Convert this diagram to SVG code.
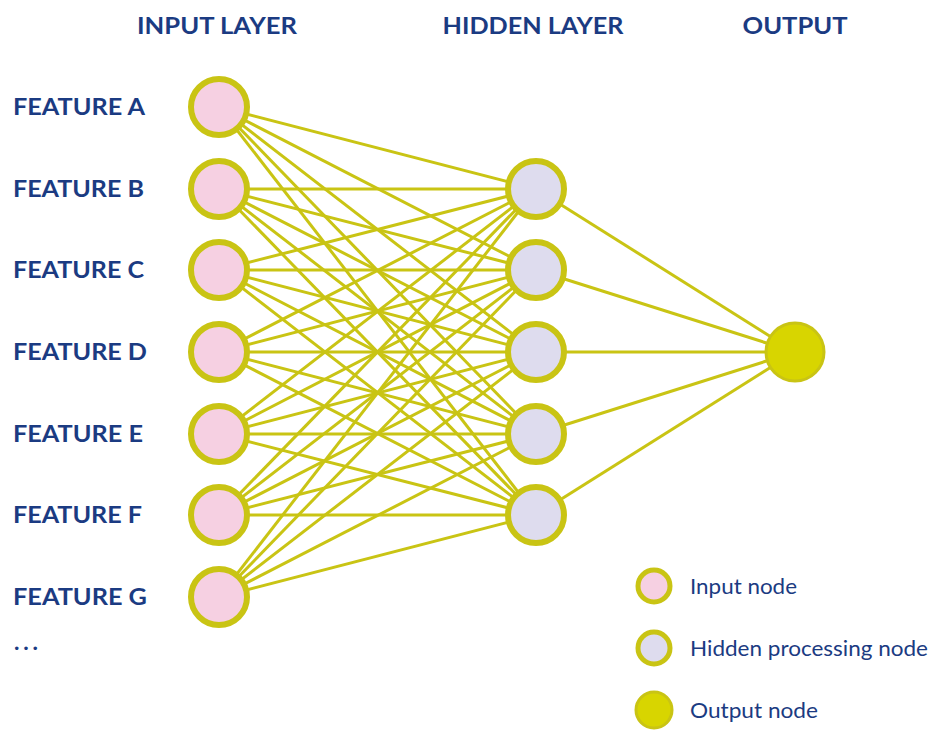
<svg xmlns="http://www.w3.org/2000/svg" width="932" height="740" viewBox="0 0 932 740">
<defs>
<style>
.hdr{font-family:Lato,"Open Sans","Liberation Sans",sans-serif;font-weight:700;font-size:23px;fill:#1b3b82;}
.lbl{font-family:Lato,"Open Sans","Liberation Sans",sans-serif;font-weight:700;font-size:23px;fill:#1b3b82;}
.leg{font-family:Lato,"Open Sans","Liberation Sans",sans-serif;font-weight:400;font-size:21px;fill:#1b3b82;}
.in{fill:#f6d0e2;stroke:#c9c414;stroke-width:6;}
.hid{fill:#dedcee;stroke:#c9c414;stroke-width:6;}
.out{fill:#d8d500;stroke:#c9c414;stroke-width:3;}
.ln{stroke:#c9c414;stroke-width:3;fill:none;}
</style>
</defs>
<rect width="932" height="740" fill="#ffffff"/>
<g id="headers">
<text class="hdr" x="217" y="34" text-anchor="middle" textLength="160" lengthAdjust="spacingAndGlyphs">INPUT LAYER</text>
<text class="hdr" x="533" y="34" text-anchor="middle" textLength="181" lengthAdjust="spacingAndGlyphs">HIDDEN LAYER</text>
<text class="hdr" x="795" y="34" text-anchor="middle" textLength="105" lengthAdjust="spacingAndGlyphs">OUTPUT</text>
</g>
<g id="labels">
<text class="lbl" x="13" y="115" textLength="132" lengthAdjust="spacingAndGlyphs">FEATURE A</text>
<text class="lbl" x="13" y="197" textLength="131" lengthAdjust="spacingAndGlyphs">FEATURE B</text>
<text class="lbl" x="13" y="278" textLength="131" lengthAdjust="spacingAndGlyphs">FEATURE C</text>
<text class="lbl" x="13" y="360" textLength="134" lengthAdjust="spacingAndGlyphs">FEATURE D</text>
<text class="lbl" x="13" y="442" textLength="130" lengthAdjust="spacingAndGlyphs">FEATURE E</text>
<text class="lbl" x="13" y="523" textLength="129" lengthAdjust="spacingAndGlyphs">FEATURE F</text>
<text class="lbl" x="13" y="605" textLength="134" lengthAdjust="spacingAndGlyphs">FEATURE G</text>
<text class="lbl" x="14" y="650" textLength="24" lengthAdjust="spacing">...</text>
</g>
<g id="connectors">
<line class="ln" x1="219" y1="107" x2="536" y2="189"/><line class="ln" x1="219" y1="107" x2="536" y2="270"/><line class="ln" x1="219" y1="107" x2="536" y2="352"/><line class="ln" x1="219" y1="107" x2="536" y2="434"/><line class="ln" x1="219" y1="107" x2="536" y2="515"/>
<line class="ln" x1="219" y1="189" x2="536" y2="189"/><line class="ln" x1="219" y1="189" x2="536" y2="270"/><line class="ln" x1="219" y1="189" x2="536" y2="352"/><line class="ln" x1="219" y1="189" x2="536" y2="434"/><line class="ln" x1="219" y1="189" x2="536" y2="515"/>
<line class="ln" x1="219" y1="270" x2="536" y2="189"/><line class="ln" x1="219" y1="270" x2="536" y2="270"/><line class="ln" x1="219" y1="270" x2="536" y2="352"/><line class="ln" x1="219" y1="270" x2="536" y2="434"/><line class="ln" x1="219" y1="270" x2="536" y2="515"/>
<line class="ln" x1="219" y1="352" x2="536" y2="189"/><line class="ln" x1="219" y1="352" x2="536" y2="270"/><line class="ln" x1="219" y1="352" x2="536" y2="352"/><line class="ln" x1="219" y1="352" x2="536" y2="434"/><line class="ln" x1="219" y1="352" x2="536" y2="515"/>
<line class="ln" x1="219" y1="434" x2="536" y2="189"/><line class="ln" x1="219" y1="434" x2="536" y2="270"/><line class="ln" x1="219" y1="434" x2="536" y2="352"/><line class="ln" x1="219" y1="434" x2="536" y2="434"/><line class="ln" x1="219" y1="434" x2="536" y2="515"/>
<line class="ln" x1="219" y1="515" x2="536" y2="189"/><line class="ln" x1="219" y1="515" x2="536" y2="270"/><line class="ln" x1="219" y1="515" x2="536" y2="352"/><line class="ln" x1="219" y1="515" x2="536" y2="434"/><line class="ln" x1="219" y1="515" x2="536" y2="515"/>
<line class="ln" x1="219" y1="597" x2="536" y2="189"/><line class="ln" x1="219" y1="597" x2="536" y2="270"/><line class="ln" x1="219" y1="597" x2="536" y2="352"/><line class="ln" x1="219" y1="597" x2="536" y2="434"/><line class="ln" x1="219" y1="597" x2="536" y2="515"/>
<line class="ln" x1="536" y1="189" x2="795" y2="352"/><line class="ln" x1="536" y1="270" x2="795" y2="352"/><line class="ln" x1="536" y1="352" x2="795" y2="352"/><line class="ln" x1="536" y1="434" x2="795" y2="352"/><line class="ln" x1="536" y1="515" x2="795" y2="352"/>
</g>
<g id="in-a"><circle class="in" cx="219" cy="107" r="28"/></g>
<g id="in-b"><circle class="in" cx="219" cy="189" r="28"/></g>
<g id="in-c"><circle class="in" cx="219" cy="270" r="28"/></g>
<g id="in-d"><circle class="in" cx="219" cy="352" r="28"/></g>
<g id="in-e"><circle class="in" cx="219" cy="434" r="28"/></g>
<g id="in-f"><circle class="in" cx="219" cy="515" r="28"/></g>
<g id="in-g"><circle class="in" cx="219" cy="597" r="28"/></g>
<g id="hid-1"><circle class="hid" cx="536" cy="189" r="28"/></g>
<g id="hid-2"><circle class="hid" cx="536" cy="270" r="28"/></g>
<g id="hid-3"><circle class="hid" cx="536" cy="352" r="28"/></g>
<g id="hid-4"><circle class="hid" cx="536" cy="434" r="28"/></g>
<g id="hid-5"><circle class="hid" cx="536" cy="515" r="28"/></g>
<g id="output"><circle class="out" cx="795" cy="352" r="29"/></g>
<g id="legend">
<circle class="in" cx="654" cy="586" r="16" style="stroke-width:5"/>
<text class="leg" x="690" y="594" textLength="107" lengthAdjust="spacingAndGlyphs">Input node</text>
<circle class="hid" cx="654" cy="648" r="16" style="stroke-width:5"/>
<text class="leg" x="690" y="656" textLength="238" lengthAdjust="spacingAndGlyphs">Hidden processing node</text>
<circle class="out" cx="654" cy="710" r="18"/>
<text class="leg" x="690" y="718" textLength="128" lengthAdjust="spacingAndGlyphs">Output node</text>
</g>
</svg>
